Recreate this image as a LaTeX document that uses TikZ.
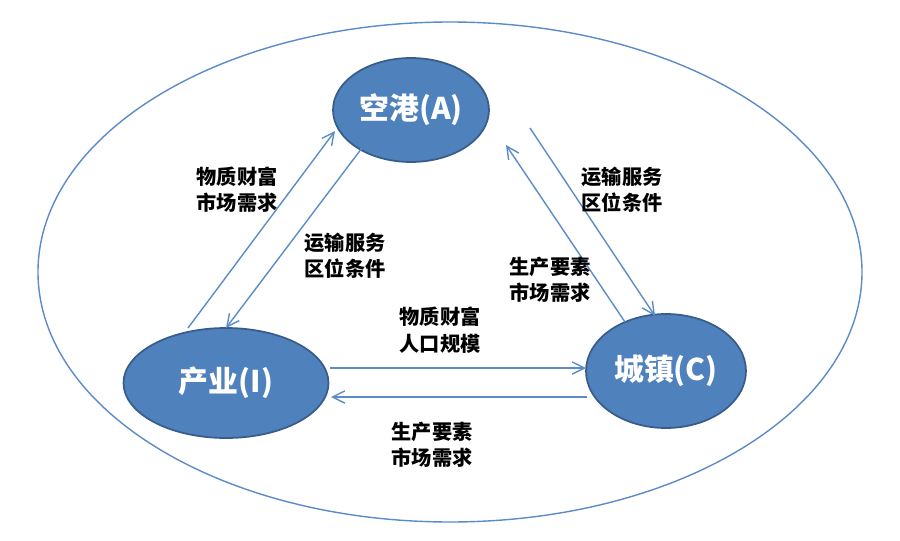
\documentclass[tikz,border=0pt]{standalone}
\usepackage{fontspec}
\setmainfont{Noto Sans CJK SC}
\usetikzlibrary{shapes.geometric,arrows.meta}
\definecolor{nfill}{HTML}{4F81BD}
\definecolor{nline}{HTML}{385D8A}
\definecolor{aline}{HTML}{5B8CC8}
\begin{document}
\begin{tikzpicture}[x=0.02cm,y=-0.02cm,
  hub/.style={ellipse,fill=nfill,draw=nline,line width=1pt,text=white,font=\fontsize{17}{20}\selectfont\bfseries,inner sep=0pt},
  link/.style={draw=aline,line width=0.8pt,-{Straight Barb[length=7pt,width=7pt]}},
  lbl/.style={font=\fontsize{11.5}{15}\selectfont\bfseries,align=left}]
\useasboundingbox (0,0) rectangle (900,541);
\draw[aline,line width=0.8pt] (450,272) ellipse [x radius=412, y radius=250];
\node[hub,minimum width=3.12cm,minimum height=2.08cm] (A) at (411,110) {空港(A)};
\node[hub,minimum width=4.1cm,minimum height=2.2cm] (I) at (226,383) {产业(I)};
\node[hub,minimum width=3.2cm,minimum height=2.28cm] (C) at (666,371) {城镇(C)};
\coordinate (i1) at (188,328); \coordinate (a1) at (335,131);
\coordinate (a2) at (362,148); \coordinate (i2) at (226,328);
\coordinate (a3) at (530,128); \coordinate (c3) at (655,316);
\coordinate (c4) at (625,322); \coordinate (a4) at (506,145);
\coordinate (i5) at (330,368); \coordinate (c5) at (586,368);
\coordinate (c6) at (587,397); \coordinate (i6) at (331,397);
\draw[link] (i1) -- (a1);
\draw[link] (a2) -- (i2);
\draw[link] (a3) -- (c3);
\draw[link] (c4) -- (a4);
\draw[link] (i5) -- (c5);
\draw[link] (c6) -- (i6);
\node[lbl] (l1) at (237,190) {物质财富\\市场需求};
\node[lbl] (l2) at (345,256) {运输服务\\区位条件};
\node[lbl] (l3) at (622,190) {运输服务\\区位条件};
\node[lbl] (l4) at (550,280) {生产要素\\市场需求};
\node[lbl] (l5) at (440,330) {物质财富\\人口规模};
\node[lbl] (l6) at (432,445) {生产要素\\市场需求};
\end{tikzpicture}
\end{document}
